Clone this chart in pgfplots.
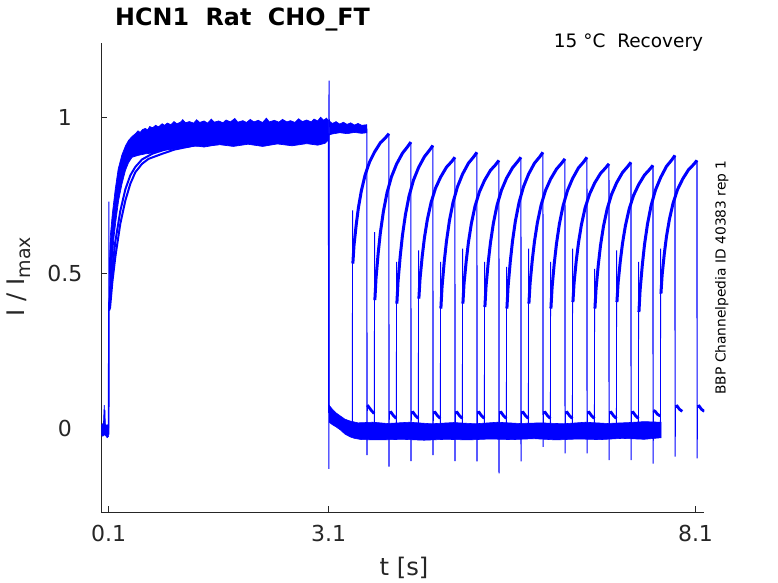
\documentclass[border=0pt]{standalone}
\usepackage{pgfplots}
\pgfplotsset{compat=1.18}
\usepackage{fontspec}
\setmainfont{DejaVu Sans}
\definecolor{axgray}{gray}{0.15}
\definecolor{tr}{RGB}{0,0,255}
\begin{document}
\begin{tikzpicture}
\path[use as bounding box] (-101.3bp,-70.7bp) rectangle (676.7bp,512.3bp);
\begin{axis}[at={(0,0)}, anchor=south west, scale only axis, width=603bp, height=469bp,
 xmin=0, xmax=8.22, ymin=-0.27, ymax=1.24,
 axis x line*=bottom, axis y line*=left,
 axis line style={-, draw=axgray, line width=0.7bp},
 xtick={0.1,3.1,8.1}, ytick={0,0.5,1},
 xticklabels={0.1,3.1,8.1}, yticklabels={0,0.5,1},
 tick align=inside, major tick length=6bp,
 tick style={draw=axgray, line width=0.7bp},
 /pgf/number format/assume math mode=true,
 ticklabel style={font=\fontsize{22bp}{26bp}\selectfont, text=axgray, inner sep=0pt},
 xticklabel style={anchor=north, yshift=-12.4bp},
 yticklabel style={anchor=center, xshift=-36.5bp},
 unbounded coords=jump, no markers,
]
% pre-pulse baseline
\addplot[draw=tr, fill=tr, line width=0.6bp] coordinates {
(0.0,0.01) (0.02,0.015) (0.03,0.02) (0.035,0.05) (0.04,0.075) (0.045,0.03) (0.05,0.06) (0.055,0.015) (0.07,0.01) (0.09,0.012) (0.1,0.01)
(0.1,-0.025) (0.08,-0.03) (0.05,-0.02) (0.02,-0.025) (0.0,-0.02)} -- cycle;
\addplot[tr, line width=1.6bp] coordinates {(0.1,-0.02) (0.104,0.39)};
\addplot[tr, line width=1bp] coordinates {(0.101,0.0) (0.102,0.73) (0.105,0.42)};
% P1 band
\addplot[draw=tr, fill=tr, line width=0.7bp] coordinates {
(0.104,0.38) (0.108,0.45) (0.113,0.55) (0.123,0.62) (0.15,0.69) (0.19,0.77) (0.23,0.835) (0.28,0.88) (0.33,0.91) (0.373,0.928) (0.42,0.94) (0.47,0.95) (0.5,0.958) (0.53,0.953) (0.56,0.962) (0.6,0.966) (0.63,0.961) (0.66,0.972) (0.7,0.968) (0.74,0.976) (0.78,0.971) (0.83,0.981) (0.86,0.976) (0.9,0.983) (0.95,0.978) (0.99,0.988) (1.03,0.981) (1.08,0.986) (1.11,0.994) (1.15,0.984) (1.2,0.988) (1.26,0.983) (1.3,0.994) (1.34,0.985) (1.4,0.99) (1.45,0.983) (1.5,0.996) (1.54,0.986) (1.6,0.99) (1.66,0.984) (1.7,0.993) (1.76,0.987) (1.82,0.998) (1.86,0.986) (1.93,0.991) (1.98,0.985) (2.03,0.995) (2.08,0.987) (2.14,0.992) (2.2,0.985) (2.25,0.999) (2.29,0.987) (2.36,0.992) (2.42,0.986) (2.47,0.995) (2.53,0.987) (2.58,0.991) (2.64,0.985) (2.69,0.997) (2.74,0.988) (2.8,0.993) (2.86,0.987) (2.9,0.996) (2.95,0.99) (2.99,1.002) (3.03,0.992) (3.07,0.999) (3.1,0.99)
(3.1,0.93) (3.05,0.918) (2.95,0.912) (2.8,0.917) (2.6,0.91) (2.4,0.916) (2.2,0.908) (2.0,0.915) (1.8,0.908) (1.6,0.914) (1.4,0.906) (1.282,0.91) (1.15,0.904) (1.054,0.905) (0.95,0.898) (0.827,0.895) (0.7,0.887) (0.6,0.884) (0.5,0.879) (0.419,0.873) (0.37,0.855) (0.328,0.83) (0.28,0.785) (0.236,0.734) (0.2,0.67) (0.168,0.605) (0.145,0.5) (0.123,0.39) (0.108,0.38)} -- cycle;
\addplot[tr, line width=2bp] coordinates {(0.106,0.38) (0.12,0.39) (0.15,0.47) (0.191,0.552) (0.259,0.659) (0.328,0.734) (0.396,0.788) (0.464,0.825) (0.555,0.852) (0.645,0.868) (0.827,0.884) (1.0,0.898) (1.25,0.91) (1.6,0.915)};
\addplot[tr, line width=2bp] coordinates {(0.106,0.40) (0.12,0.42) (0.15,0.51) (0.19,0.6) (0.259,0.7) (0.328,0.77) (0.396,0.815) (0.464,0.842) (0.555,0.866) (0.7,0.885) (0.9,0.9) (1.2,0.91)};
% end of P1
\addplot[tr, line width=1.6bp] coordinates {(3.1,0.95) (3.103,0.05)};
\addplot[tr, line width=1bp] coordinates {(3.101,0.9) (3.102,-0.13) (3.104,1.12) (3.108,0.97)};
% sweep 0 second pulse
\addplot[draw=tr, fill=tr, line width=0.6bp] coordinates {
(3.108,0.99) (3.15,0.982) (3.2,0.988) (3.25,0.98) (3.3,0.986) (3.35,0.979) (3.4,0.984) (3.45,0.977) (3.5,0.982) (3.55,0.976) (3.62,0.978)
(3.62,0.952) (3.55,0.95) (3.45,0.953) (3.35,0.949) (3.25,0.952) (3.15,0.948) (3.108,0.945)} -- cycle;
% baseline band
\addplot[draw=tr, fill=tr, line width=0.6bp] coordinates {
(3.105,0.075) (3.15,0.062) (3.2,0.05) (3.26,0.04) (3.32,0.03) (3.39,0.024) (3.5,0.018) (3.7,0.02) (3.9,0.016) (4.2,0.02) (4.5,0.015) (4.8,0.019) (5.1,0.015) (5.4,0.02) (5.7,0.016) (6.0,0.018) (6.3,0.015) (6.6,0.02) (6.9,0.016) (7.2,0.019) (7.4,0.022) (7.63,0.02)
(7.63,-0.03) (7.4,-0.035) (7.1,-0.032) (6.8,-0.036) (6.5,-0.034) (6.2,-0.037) (5.9,-0.033) (5.6,-0.036) (5.3,-0.034) (5.0,-0.037) (4.7,-0.035) (4.4,-0.038) (4.1,-0.035) (3.8,-0.037) (3.55,-0.036) (3.45,-0.032) (3.39,-0.027) (3.32,-0.018) (3.26,-0.005) (3.2,0.005) (3.15,0.012) (3.105,0.02)} -- cycle;
% start spikes of the second pulses
\addplot[tr, line width=0.9bp] coordinates {
(3.422,0) (3.425,0.702) (3.429,0.531) (nan,nan)
(3.722,0) (3.725,0.632) (3.729,0.413) (nan,nan)
(4.022,0) (4.025,0.536) (4.029,0.402) (nan,nan)
(4.322,0) (4.325,0.573) (4.329,0.418) (nan,nan)
(4.622,0) (4.625,0.536) (4.629,0.386) (nan,nan)
(4.922,0) (4.925,0.579) (4.929,0.402) (nan,nan)
(5.222,0) (5.225,0.536) (5.229,0.391) (nan,nan)
(5.522,0) (5.525,0.52) (5.529,0.386) (nan,nan)
(5.822,0) (5.825,0.579) (5.829,0.402) (nan,nan)
(6.122,0) (6.125,0.536) (6.129,0.386) (nan,nan)
(6.422,0) (6.425,0.579) (6.429,0.407) (nan,nan)
(6.722,0) (6.725,0.514) (6.729,0.386) (nan,nan)
(7.022,0) (7.025,0.573) (7.029,0.407) (nan,nan)
(7.322,0) (7.325,0.536) (7.329,0.375) (nan,nan)
(7.622,0) (7.625,0.579) (7.629,0.434)};
% second-pulse activation curves
\addplot[tr, line width=3bp] coordinates {
(3.429,0.531) (3.445,0.590) (3.475,0.656) (3.505,0.711) (3.545,0.765) (3.595,0.815) (3.655,0.857) (3.725,0.890) (3.805,0.920) (3.875,0.936) (3.92,0.949) (nan,nan)
(3.729,0.413) (3.745,0.484) (3.775,0.566) (3.805,0.632) (3.845,0.698) (3.895,0.759) (3.955,0.810) (4.025,0.851) (4.105,0.886) (4.175,0.907) (4.22,0.922) (nan,nan)
(4.029,0.402) (4.045,0.473) (4.075,0.555) (4.105,0.621) (4.145,0.687) (4.195,0.748) (4.255,0.799) (4.325,0.840) (4.405,0.875) (4.475,0.896) (4.52,0.911) (nan,nan)
(4.329,0.418) (4.345,0.482) (4.375,0.555) (4.405,0.614) (4.445,0.673) (4.495,0.727) (4.555,0.773) (4.625,0.809) (4.705,0.841) (4.775,0.859) (4.82,0.873) (nan,nan)
(4.629,0.386) (4.645,0.456) (4.675,0.537) (4.705,0.602) (4.745,0.668) (4.795,0.728) (4.855,0.778) (4.925,0.819) (5.005,0.854) (5.075,0.874) (5.12,0.889) (nan,nan)
(4.929,0.402) (4.945,0.467) (4.975,0.540) (5.005,0.600) (5.045,0.660) (5.095,0.716) (5.155,0.762) (5.225,0.799) (5.305,0.831) (5.375,0.849) (5.42,0.863) (nan,nan)
(5.229,0.391) (5.245,0.459) (5.275,0.536) (5.305,0.598) (5.345,0.661) (5.395,0.719) (5.455,0.767) (5.525,0.806) (5.605,0.839) (5.675,0.859) (5.72,0.873) (nan,nan)
(5.529,0.386) (5.545,0.456) (5.575,0.537) (5.605,0.602) (5.645,0.668) (5.695,0.728) (5.755,0.778) (5.825,0.819) (5.905,0.854) (5.975,0.874) (6.02,0.889) (nan,nan)
(5.829,0.402) (5.845,0.467) (5.875,0.542) (5.905,0.602) (5.945,0.663) (5.995,0.719) (6.055,0.766) (6.125,0.803) (6.205,0.835) (6.275,0.854) (6.32,0.868) (nan,nan)
(6.129,0.386) (6.145,0.454) (6.175,0.532) (6.205,0.595) (6.245,0.659) (6.295,0.717) (6.355,0.766) (6.425,0.805) (6.505,0.839) (6.575,0.858) (6.62,0.873) (nan,nan)
(6.429,0.407) (6.445,0.469) (6.475,0.541) (6.505,0.598) (6.545,0.656) (6.595,0.710) (6.655,0.754) (6.725,0.790) (6.805,0.821) (6.875,0.839) (6.92,0.852) (nan,nan)
(6.729,0.386) (6.745,0.452) (6.775,0.527) (6.805,0.589) (6.845,0.650) (6.895,0.706) (6.955,0.753) (7.025,0.791) (7.105,0.824) (7.175,0.843) (7.22,0.857) (nan,nan)
(7.029,0.407) (7.045,0.469) (7.075,0.539) (7.105,0.596) (7.145,0.653) (7.195,0.706) (7.255,0.750) (7.325,0.785) (7.405,0.816) (7.475,0.834) (7.52,0.847) (nan,nan)
(7.329,0.375) (7.345,0.446) (7.375,0.526) (7.405,0.592) (7.445,0.657) (7.495,0.718) (7.555,0.768) (7.625,0.808) (7.705,0.844) (7.775,0.864) (7.82,0.879) (nan,nan)
(7.629,0.434) (7.645,0.494) (7.675,0.563) (7.705,0.619) (7.745,0.674) (7.795,0.726) (7.855,0.769) (7.925,0.803) (8.005,0.833) (8.075,0.850) (8.12,0.863)};
% end-of-pulse drops
\addplot[tr, line width=1.1bp] coordinates {
(3.62,0.965) (3.622,-0.086) (3.625,0.075) (nan,nan)
(3.92,0.949) (3.922,-0.123) (3.925,0.055) (nan,nan)
(4.22,0.922) (4.222,-0.105) (4.225,0.055) (nan,nan)
(4.52,0.911) (4.522,-0.086) (4.525,0.055) (nan,nan)
(4.82,0.873) (4.822,-0.105) (4.825,0.055) (nan,nan)
(5.12,0.889) (5.122,-0.106) (5.125,0.055) (nan,nan)
(5.42,0.863) (5.422,-0.145) (5.425,0.055) (nan,nan)
(5.72,0.873) (5.722,-0.106) (5.725,0.055) (nan,nan)
(6.02,0.889) (6.022,-0.059) (6.025,0.055) (nan,nan)
(6.32,0.868) (6.322,-0.08) (6.325,0.055) (nan,nan)
(6.62,0.873) (6.622,-0.08) (6.625,0.055) (nan,nan)
(6.92,0.852) (6.922,-0.102) (6.925,0.055) (nan,nan)
(7.22,0.857) (7.222,-0.102) (7.225,0.055) (nan,nan)
(7.52,0.847) (7.522,-0.113) (7.525,0.055) (nan,nan)
(7.82,0.879) (7.822,-0.091) (7.825,0.07) (nan,nan)
(8.12,0.863) (8.122,-0.096) (8.125,0.07)};
% tails
\addplot[tr, line width=2.8bp] coordinates {
(3.625,0.075) (3.65,0.068) (3.68,0.058) (3.72,0.048) (nan,nan)
(3.925,0.05) (3.95,0.052) (3.98,0.042) (4.02,0.032) (nan,nan)
(4.225,0.05) (4.25,0.052) (4.28,0.042) (4.32,0.032) (nan,nan)
(4.525,0.05) (4.55,0.052) (4.58,0.042) (4.62,0.032) (nan,nan)
(4.825,0.05) (4.85,0.052) (4.88,0.042) (4.92,0.032) (nan,nan)
(5.125,0.05) (5.15,0.052) (5.18,0.042) (5.22,0.032) (nan,nan)
(5.425,0.05) (5.45,0.052) (5.48,0.042) (5.52,0.032) (nan,nan)
(5.725,0.05) (5.75,0.052) (5.78,0.042) (5.82,0.032) (nan,nan)
(6.025,0.05) (6.05,0.052) (6.08,0.042) (6.12,0.032) (nan,nan)
(6.325,0.05) (6.35,0.052) (6.38,0.042) (6.42,0.032) (nan,nan)
(6.625,0.05) (6.65,0.052) (6.68,0.042) (6.72,0.032) (nan,nan)
(6.925,0.05) (6.95,0.052) (6.98,0.042) (7.02,0.032) (nan,nan)
(7.225,0.05) (7.25,0.052) (7.28,0.042) (7.32,0.032) (nan,nan)
(7.525,0.058) (7.55,0.055) (7.58,0.046) (7.62,0.04) (nan,nan)
(7.825,0.07) (7.85,0.072) (7.88,0.062) (7.92,0.055) (nan,nan)
(8.125,0.07) (8.15,0.072) (8.18,0.062) (8.22,0.055)};
\end{axis}
\node[anchor=base west, inner sep=0pt, font=\bfseries\fontsize{23.8bp}{28bp}\selectfont] at (13.7bp,486.3bp) {HCN1~~Rat~~CHO\_FT};
\node[anchor=base east, inner sep=0pt, font=\fontsize{18.5bp}{22bp}\selectfont] at (602bp,465bp) {15 °C~~Recovery};
\node[rotate=90, anchor=base, inner sep=0pt, font=\fontsize{13.8bp}{16bp}\selectfont] at (624.2bp,234.8bp) {BBP Channelpedia ID 40383 rep 1};
\node[rotate=90, anchor=base, inner sep=0pt, text=axgray, font=\fontsize{24.2bp}{28bp}\selectfont] at (-76.3bp,235.8bp) {I / I\raisebox{-6bp}{\fontsize{19bp}{22bp}\selectfont max}};
\node[anchor=base, inner sep=0pt, text=axgray, font=\fontsize{24.2bp}{28bp}\selectfont] at (302.7bp,-62.7bp) {t [s]};
\end{tikzpicture}
\end{document}
